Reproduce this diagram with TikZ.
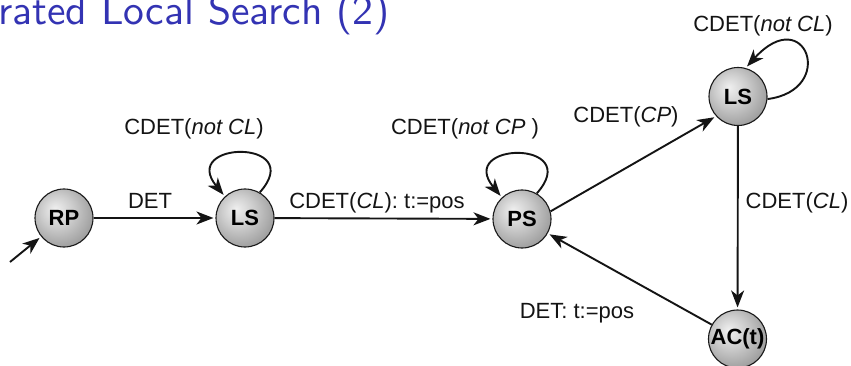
\documentclass[tikz,border=0pt]{standalone}
\usepackage{fontspec}
\setmainfont{Liberation Sans}
\newfontfamily\titlefont{lmsans10-regular.otf}
\usetikzlibrary{arrows.meta}
\definecolor{titleblue}{RGB}{51,51,179}
\pgfdeclareradialshading{nodeshade}{\pgfpoint{-8bp}{8bp}}{color(0bp)=(black!6); color(14bp)=(black!20); color(45bp)=(black!55); color(60bp)=(black!60)}
\begin{document}
\begin{tikzpicture}[x=1pt,y=-1pt,
  stnode/.style={circle, minimum size=58pt, inner sep=0pt, draw=black!90, line width=1.1pt,
    shading=nodeshade, font=\fontsize{22}{25}\selectfont\bfseries, text=black},
  edgeline/.style={line width=1.9pt, draw=black!92, -{Stealth[length=17pt,width=13pt,inset=5pt]}, shorten >=2pt},
  lbl/.style={anchor=base, inner sep=0pt, font=\fontsize{22}{26}\selectfont, text=black!92}]
\useasboundingbox (0,0) rectangle (851,366);
\fill[white] (0,0) rectangle (851,366);
% title
\node[anchor=base east, inner sep=0pt, text=titleblue, font=\titlefont\fontsize{41.6}{48}\selectfont] (title) at (390,25) {Iterated Local Search (2)};
% states
\node[stnode] (rp) at (64,218) {RP};
\node[stnode] (ls1) at (245,218) {LS};
\node[stnode] (ps) at (522,219) {PS};
\node[stnode] (ls2) at (738,96.5) {LS};
\node[stnode] (ac) at (737.5,339) {AC(t)};
\coordinate (init) at (10,262);
% edges
\draw[edgeline] (init) -- (rp);
\draw[edgeline] (rp) -- (ls1);
\draw[edgeline] (ls1) -- (ps);
\draw[edgeline] (ps.15) -- (ls2.222);
\draw[edgeline] (ls2) -- (ac);
\draw[edgeline] (ac) -- (ps);
% loops
\draw[edgeline] (ls1.60) .. controls +(48,-54) and +(-46,-56) .. (ls1.133);
\draw[edgeline] (ps.60) .. controls +(48,-54) and +(-46,-56) .. (ps.133);
\draw[edgeline] (ls2.-5) .. controls +(70,-9) and +(60,-66) .. (ls2.75);
% labels
\node[lbl] (l1) at (150,208) {DET};
\node[lbl] (l2) at (194,135) {CDET(\textit{not CL})};
\node[lbl] (l3) at (377,208) {CDET(\textit{CL}): t:=pos};
\node[lbl] (l4) at (465,135) {CDET(\textit{not CP}\ )};
\node[lbl] (l5) at (626,123) {CDET(\textit{CP})};
\node[lbl] (l6) at (763,32) {CDET(\textit{not CL})};
\node[lbl] (l7) at (797,208) {CDET(\textit{CL})};
\node[lbl] (l8) at (577,318) {DET: t:=pos};
\end{tikzpicture}
\end{document}
